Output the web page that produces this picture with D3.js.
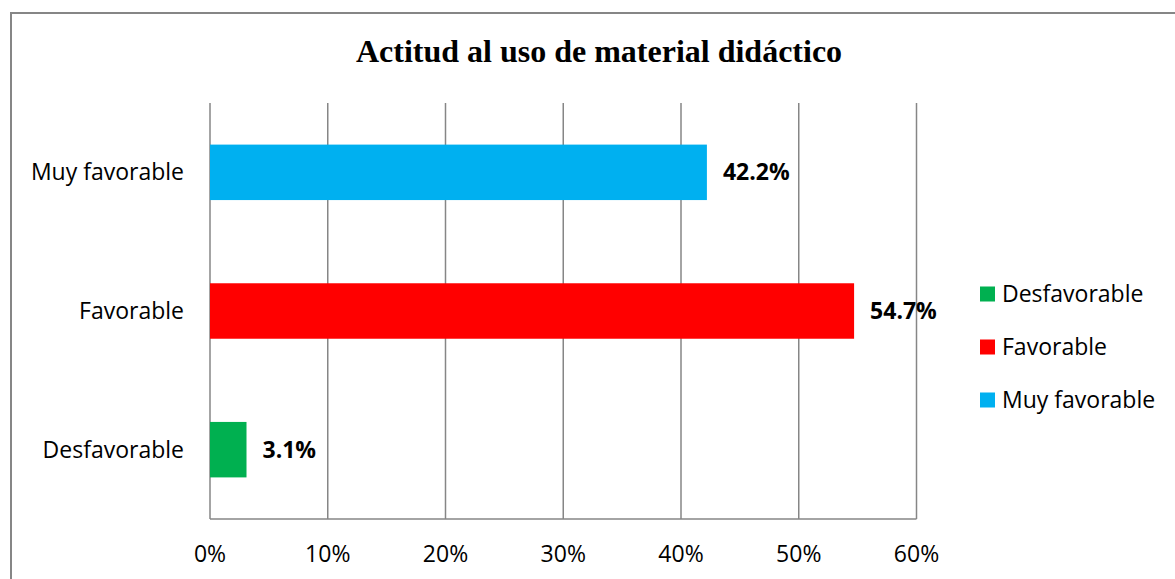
<!DOCTYPE html>
<html lang="es">
<head>
  <meta charset="UTF-8">
  <title>Actitud al uso de material didáctico</title>
  <style>
    html, body {
      margin: 0;
      padding: 0;
      background: #fff;
    }

    .grid line {
      stroke: rgb(134, 134, 134);
      stroke-width: 1.5;
    }

    .cat-label, .tick-label, .legend-label {
      font-family: "Open Sans", "Noto Sans", sans-serif;
      font-size: 23px;
      fill: #000;
    }

    .value-label {
      font-family: "Open Sans", "Noto Sans", sans-serif;
      font-size: 23px;
      font-weight: bold;
      fill: #000;
    }

    .title {
      font-family: "Liberation Serif", "Times New Roman", serif;
      font-size: 32px;
      font-weight: bold;
      fill: #000;
    }
  </style>
</head>
<body>
  <script src="https://d3js.org/d3.v7.min.js"></script>
  <script>
    const width = 1175,
          height = 579

    // data
    const categories = ['Desfavorable', 'Favorable', 'Muy favorable']
    const values = [3.1, 54.7, 42.2]
    const colors = ['#00B050', '#FF0000', '#00B0F0']
    const ticks = [0, 10, 20, 30, 40, 50, 60]
    const title = 'Actitud al uso de material didáctico'

    const plot = { left: 210, right: 916.5, top: 103, bottom: 519 }

    const svg = d3.select('body')
      .append('svg')
      .attr('width', width)
      .attr('height', height)

    // chart frame (right and bottom edges are cut off in the original)
    svg.append('rect')
      .attr('x', 11)
      .attr('y', 13)
      .attr('width', 1200)
      .attr('height', 600)
      .attr('fill', '#fff')
      .attr('stroke', 'rgb(134, 134, 134)')
      .attr('stroke-width', 2)

    svg.append('text')
      .attr('class', 'title')
      .attr('x', 599)
      .attr('y', 62)
      .attr('text-anchor', 'middle')
      .text(title)

    const x = d3.scaleLinear()
      .domain([0, 60])
      .range([plot.left, plot.right])

    // reversed so the first category sits at the bottom
    const y = d3.scaleBand()
      .domain(categories.slice().reverse())
      .range([plot.top, plot.bottom])
      .paddingInner(0.6)
      .paddingOuter(0.3)

    const grid = svg.append('g').attr('class', 'grid')

    grid.selectAll('line.v')
      .data(ticks)
      .enter()
      .append('line')
        .attr('class', 'v')
        .attr('x1', d => x(d))
        .attr('x2', d => x(d))
        .attr('y1', plot.top)
        .attr('y2', plot.bottom)

    grid.append('line')
      .attr('x1', plot.left)
      .attr('x2', plot.right)
      .attr('y1', plot.bottom)
      .attr('y2', plot.bottom)

    svg.append('g')
      .selectAll('text')
      .data(ticks)
      .enter()
      .append('text')
        .attr('class', 'tick-label')
        .attr('x', d => x(d))
        .attr('y', 554)
        .attr('dy', '0.35em')
        .attr('text-anchor', 'middle')
        .text(d => d + '%')

    const rows = categories.map((c, i) => ({ cat: c, value: values[i], color: colors[i] }))

    svg.append('g')
      .selectAll('rect')
      .data(rows)
      .enter()
      .append('rect')
        .attr('x', x(0))
        .attr('y', d => y(d.cat))
        .attr('width', d => x(d.value) - x(0))
        .attr('height', y.bandwidth())
        .attr('fill', d => d.color)

    svg.append('g')
      .selectAll('text')
      .data(rows)
      .enter()
      .append('text')
        .attr('class', 'value-label')
        .attr('x', d => x(d.value) + 16)
        .attr('y', d => y(d.cat) + y.bandwidth() / 2)
        .attr('dy', '0.35em')
        .text(d => d.value.toFixed(1) + '%')

    svg.append('g')
      .selectAll('text')
      .data(rows)
      .enter()
      .append('text')
        .attr('class', 'cat-label')
        .attr('x', plot.left - 26)
        .attr('y', d => y(d.cat) + y.bandwidth() / 2)
        .attr('dy', '0.35em')
        .attr('text-anchor', 'end')
        .text(d => d.cat)

    // legend
    const legend = svg.append('g')
      .selectAll('g')
      .data(rows)
      .enter()
      .append('g')
        .attr('transform', (d, i) => `translate(980, ${294 + i * 53})`)

    legend.append('rect')
      .attr('x', 0)
      .attr('y', -7.5)
      .attr('width', 15)
      .attr('height', 15)
      .attr('fill', d => d.color)

    legend.append('text')
      .attr('class', 'legend-label')
      .attr('x', 22)
      .attr('y', 0)
      .attr('dy', '0.35em')
      .text(d => d.cat)
  </script>
</body>
</html>
